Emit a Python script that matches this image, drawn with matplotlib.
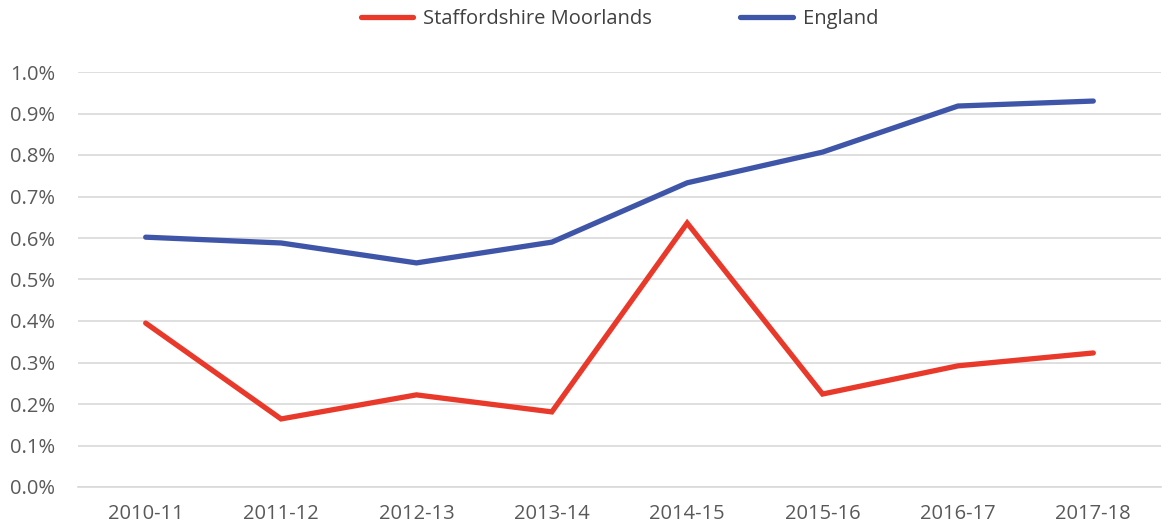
import matplotlib
matplotlib.use("Agg")
import matplotlib.pyplot as plt
from matplotlib.ticker import FuncFormatter, MultipleLocator

years = ["2010-11", "2011-12", "2012-13", "2013-14", "2014-15", "2015-16", "2016-17", "2017-18"]
staffs = [0.395, 0.164, 0.222, 0.181, 0.636, 0.224, 0.292, 0.323]
england = [0.602, 0.588, 0.540, 0.590, 0.733, 0.807, 0.918, 0.930]

plt.rcParams["font.family"] = ["Open Sans", "DejaVu Sans"]

fig = plt.figure(figsize=(11.71, 5.30), dpi=100)
ax = fig.add_axes([78 / 1171, 1 - 487 / 530, (1161 - 78) / 1171, (487 - 72) / 530])

x = list(range(len(years)))
ax.plot(x, staffs, color="#E8392A", linewidth=3.8, solid_capstyle="round",
        solid_joinstyle="miter", label="Staffordshire Moorlands", zorder=3)
ax.plot(x, england, color="#3F56A8", linewidth=3.8, solid_capstyle="round",
        solid_joinstyle="miter", label="England", zorder=3)

ax.set_xlim(-0.5, len(years) - 0.5)
ax.set_ylim(0, 1.0)
ax.yaxis.set_major_locator(MultipleLocator(0.1))
ax.yaxis.set_major_formatter(FuncFormatter(lambda v, p: f"{v:.1f}%"))
ax.set_xticks(x)
ax.set_xticklabels(years)

ax.grid(axis="y", color="#d9d9d9", linewidth=1.2, zorder=0)
for s in ["top", "right", "left"]:
    ax.spines[s].set_visible(False)
ax.spines["bottom"].set_color("#d9d9d9")
ax.spines["bottom"].set_linewidth(1.2)
ax.tick_params(axis="both", length=0, labelsize=14.5, colors="#595959")
ax.tick_params(axis="y", pad=16.5)
ax.tick_params(axis="x", pad=12)

ax.legend(loc="center", bbox_to_anchor=(0.5, 1.128), ncol=2, frameon=False,
          fontsize=14.5, labelcolor="#404040", handlelength=2.6, handletextpad=0.5,
          columnspacing=4.4)

fig.savefig("out.png", dpi=100)
